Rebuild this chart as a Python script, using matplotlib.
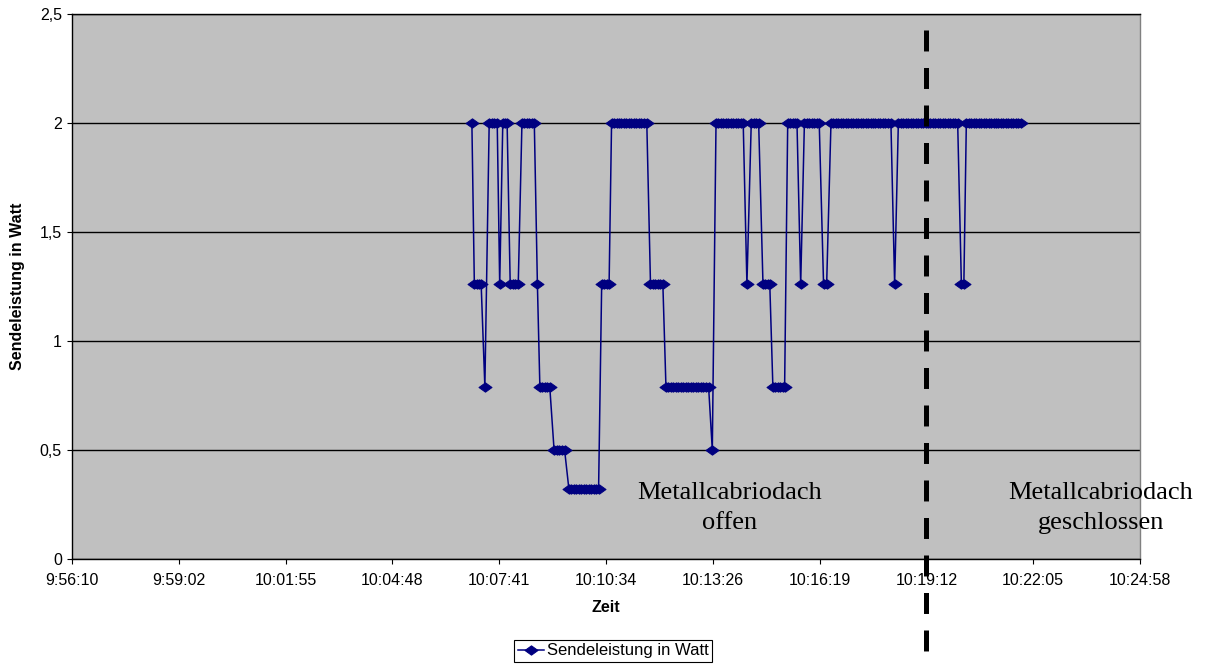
import matplotlib
matplotlib.use("Agg")
import numpy as np
import matplotlib.pyplot as plt
import matplotlib.transforms as mtransforms
from matplotlib.lines import Line2D
from matplotlib.path import Path

# Messzeitpunkte in Sekunden ab 9:56:10
zeit_s = [
    647,
    651, 655, 659, 662,
    668,
    675, 679, 683, 688,
    692,
    697, 700, 704,
    709, 713, 717, 722,
    728, 732, 736, 740, 744, 748,
    753,
    757, 761, 765, 769, 773,
    780, 784, 788, 792, 797,
    804, 808, 812, 816, 820, 824, 828, 832, 836, 840, 844, 848, 852,
    857, 861, 865, 869,
    873, 877, 881, 885, 889, 893, 897, 901, 905, 909, 913, 917, 921, 925, 930,
    936, 940, 944, 948, 952, 956,
    961, 965, 969, 973, 977, 981, 985, 989, 993, 997, 1001, 1005, 1009, 1013,
    1017, 1021, 1025, 1030,
    1036,
    1042, 1046, 1050, 1054, 1058, 1062, 1066, 1070, 1074, 1078, 1082, 1086,
    1092,
    1099, 1103, 1107, 1111,
    1118, 1122, 1126, 1129,
    1134, 1138, 1142, 1146, 1150, 1153,
    1158, 1162, 1166, 1170, 1173,
    1179,
    1185, 1189, 1193, 1197, 1201, 1205, 1209,
    1216, 1221,
    1228, 1232, 1236, 1240, 1244, 1248, 1252, 1256, 1260, 1264, 1268, 1272,
    1276, 1280, 1284, 1288, 1292, 1296, 1300, 1304, 1308, 1312, 1316, 1320, 1325,
    1331,
    1337, 1341, 1345, 1349, 1353, 1357, 1361, 1365, 1369, 1373, 1377, 1381,
    1385, 1389, 1393, 1397, 1401, 1405, 1409, 1413, 1417, 1421, 1425, 1429, 1433,
    1439, 1443,
    1447, 1451, 1455, 1459, 1463, 1467, 1471, 1475, 1479, 1483, 1487, 1491,
    1495, 1499, 1503, 1507, 1511, 1515, 1519, 1523, 1527, 1531, 1535,
]

# Gemessene Sendeleistung in Watt
leistung_w = [
    2.0,
    1.26, 1.26, 1.26, 1.26,
    0.79,
    2.0, 2.0, 2.0, 2.0,
    1.26,
    2.0, 2.0, 2.0,
    1.26, 1.26, 1.26, 1.26,
    2.0, 2.0, 2.0, 2.0, 2.0, 2.0,
    1.26,
    0.79, 0.79, 0.79, 0.79, 0.79,
    0.5, 0.5, 0.5, 0.5, 0.5,
    0.32, 0.32, 0.32, 0.32, 0.32, 0.32, 0.32, 0.32, 0.32, 0.32, 0.32, 0.32, 0.32,
    1.26, 1.26, 1.26, 1.26,
    2.0, 2.0, 2.0, 2.0, 2.0, 2.0, 2.0, 2.0, 2.0, 2.0, 2.0, 2.0, 2.0, 2.0, 2.0,
    1.26, 1.26, 1.26, 1.26, 1.26, 1.26,
    0.79, 0.79, 0.79, 0.79, 0.79, 0.79, 0.79, 0.79, 0.79, 0.79, 0.79, 0.79,
    0.79, 0.79, 0.79, 0.79, 0.79, 0.79,
    0.5,
    2.0, 2.0, 2.0, 2.0, 2.0, 2.0, 2.0, 2.0, 2.0, 2.0, 2.0, 2.0,
    1.26,
    2.0, 2.0, 2.0, 2.0,
    1.26, 1.26, 1.26, 1.26,
    0.79, 0.79, 0.79, 0.79, 0.79, 0.79,
    2.0, 2.0, 2.0, 2.0, 2.0,
    1.26,
    2.0, 2.0, 2.0, 2.0, 2.0, 2.0, 2.0,
    1.26, 1.26,
    2.0, 2.0, 2.0, 2.0, 2.0, 2.0, 2.0, 2.0, 2.0, 2.0, 2.0, 2.0,
    2.0, 2.0, 2.0, 2.0, 2.0, 2.0, 2.0, 2.0, 2.0, 2.0, 2.0, 2.0, 2.0,
    1.26,
    2.0, 2.0, 2.0, 2.0, 2.0, 2.0, 2.0, 2.0, 2.0, 2.0, 2.0, 2.0,
    2.0, 2.0, 2.0, 2.0, 2.0, 2.0, 2.0, 2.0, 2.0, 2.0, 2.0, 2.0, 2.0,
    1.26, 1.26,
    2.0, 2.0, 2.0, 2.0, 2.0, 2.0, 2.0, 2.0, 2.0, 2.0, 2.0, 2.0,
    2.0, 2.0, 2.0, 2.0, 2.0, 2.0, 2.0, 2.0, 2.0, 2.0, 2.0,
]

# Achsenbeschriftungen
x_tick_labels = ["9:56:10", "9:59:02", "10:01:55", "10:04:48", "10:07:41",
                 "10:10:34", "10:13:26", "10:16:19", "10:19:12", "10:22:05",
                 "10:24:58"]
y_ticks = [0, 0.5, 1, 1.5, 2, 2.5]
y_tick_labels = ["0", "0,5", "1", "1,5", "2", "2,5"]

# Zeitpunkt, an dem das Dach geschlossen wurde (10:19:12)
dach_zu_s = 1382.4
x_span_s = 1728.0

W, H = 1208, 666
plt.rcParams["font.family"] = ["Liberation Sans", "DejaVu Sans"]

fig = plt.figure(figsize=(W / 100, H / 100), dpi=100)
fig.patch.set_facecolor("white")

left, right, top, bottom = 72, 1140, 14, 559
ax = fig.add_axes([left / W, (H - bottom) / H, (right - left) / W, (bottom - top) / H])
ax.set_facecolor("#C0C0C0")
ax.set_xlim(0, x_span_s)
ax.set_ylim(0, 2.5)

ax.set_xticks(np.linspace(0, x_span_s, len(x_tick_labels)))
ax.set_xticklabels(x_tick_labels, fontsize=11.5)
ax.set_yticks(y_ticks)
ax.set_yticklabels(y_tick_labels, fontsize=11.5)
ax.tick_params(axis="both", direction="out", length=3.6, width=0.8, color="black")
ax.tick_params(axis="x", pad=6.5)
ax.tick_params(axis="y", pad=3.6)

ax.yaxis.grid(True, color="black", linewidth=1.0)
ax.set_axisbelow(True)
ax.spines["left"].set_color("black")
ax.spines["bottom"].set_color("black")
ax.spines["top"].set_color("black")
ax.spines["right"].set_color("#808080")
for s in ax.spines.values():
    s.set_linewidth(1.0)

diamond = Path([(-1, 0), (0, 0.72), (1, 0), (0, -0.72), (-1, 0)],
               [Path.MOVETO, Path.LINETO, Path.LINETO, Path.LINETO, Path.CLOSEPOLY])

ax.plot(zeit_s, leistung_w, color="#000080", linewidth=1.1,
        marker=diamond, markersize=9.4, markerfacecolor="#000080",
        markeredgecolor="#000080", markeredgewidth=0.7,
        label="Sendeleistung in Watt", zorder=3)

fig.text(18 / W, 1 - 286 / H, "Sendeleistung in Watt", rotation=90,
         ha="center", va="center", fontsize=11.5, fontweight="bold")
fig.text(606 / W, 1 - 607 / H, "Zeit", ha="center", va="center",
         fontsize=11.5, fontweight="bold")

leg = ax.legend(loc="center", bbox_to_anchor=(613 / W, 1 - 651 / H),
                bbox_transform=fig.transFigure, fontsize=12,
                frameon=True, fancybox=False, framealpha=1,
                edgecolor="black", facecolor="white",
                handlelength=1.6, handletextpad=0.15,
                borderpad=0.2, borderaxespad=0)
leg.get_frame().set_linewidth(0.8)

serif = ["Liberation Serif", "DejaVu Serif"]
fig.text(730 / W, 1 - 508 / H, "Metallcabriodach\noffen", ha="center",
         va="center", fontsize=19, family=serif, linespacing=1.48)
fig.text(1101 / W, 1 - 508 / H, "Metallcabriodach\ngeschlossen", ha="center",
         va="center", fontsize=19, family=serif, linespacing=1.48)

trans = mtransforms.blended_transform_factory(ax.transData, fig.transFigure)
lw = 3.6
fig.add_artist(Line2D([dach_zu_s, dach_zu_s], [1 - 30 / H, 0], transform=trans,
                      color="black", linewidth=lw,
                      linestyle=(0, (15.1 / lw, 11.9 / lw)),
                      dash_capstyle="butt", zorder=20))

fig.savefig("out.png", dpi=100)
